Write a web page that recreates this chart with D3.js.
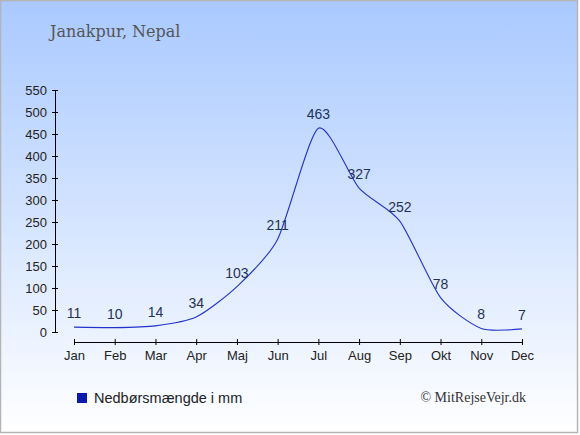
<!DOCTYPE html>
<html><head><meta charset="utf-8">
<script src="https://cdn.jsdelivr.net/npm/d3@7"></script>
<style>html,body{margin:0;padding:0;background:#fff}svg{display:block}</style>
</head><body>
<script>
const title = "Janakpur, Nepal";
const months = ["Jan","Feb","Mar","Apr","Maj","Jun","Jul","Aug","Sep","Okt","Nov","Dec"];
const rainfall = [11,10,14,34,103,211,463,327,252,78,8,7];
const yTicks = [0,50,100,150,200,250,300,350,400,450,500,550];
const legendLabel = "Nedbørsmængde i mm";
const credit = "© MitRejseVejr.dk";

const W = 580, H = 435;
const svg = d3.select("body").append("svg").attr("width", W).attr("height", H);
const defs = svg.append("defs");
const grad = defs.append("linearGradient").attr("id","bg").attr("x1",0).attr("y1",0).attr("x2",0).attr("y2",1);
grad.append("stop").attr("offset","0%").attr("stop-color","#a9c9ff");
grad.append("stop").attr("offset","100%").attr("stop-color","#ffffff");
svg.append("rect").attr("x",0.5).attr("y",0.5).attr("width",577).attr("height",432)
  .attr("fill","url(#bg)").attr("stroke","#b4b4b4").attr("stroke-width",1.5);

svg.append("text").attr("x",50).attr("y",37).text(title)
  .attr("font-family","'DejaVu Serif', serif").attr("font-size",16).attr("fill","#555");

const x = d3.scalePoint().domain(months).range([74,522]);
const y = d3.scaleLinear().domain([0,550]).range([332,90]);

// y axis
const ya = svg.append("g").attr("transform","translate(55,0)")
  .call(d3.axisLeft(y).tickValues(yTicks).tickSize(3).tickPadding(5).tickSizeOuter(0));
ya.selectAll(".tick line").attr("x1",3);
ya.select(".domain").attr("stroke","#000");
ya.selectAll("text").attr("font-family","Arial, 'Liberation Sans', sans-serif").attr("font-size",13).attr("fill","#222");

// x axis
const xa = svg.append("g").attr("transform","translate(0,342)")
  .call(d3.axisBottom(x).tickSize(3).tickPadding(6).tickSizeOuter(0));
xa.selectAll(".tick line").attr("y1",-3);
xa.select(".domain").attr("stroke","#000");
xa.selectAll("text").attr("font-family","Arial, 'Liberation Sans', sans-serif").attr("font-size",13).attr("fill","#222");

const data = months.map((m,i)=>({m, v: rainfall[i]}));
const line = d3.line().x(d=>x(d.m)).y(d=>y(d.v)).curve(d3.curveCardinal.tension(0.3));
svg.append("path").datum(data).attr("d",line).attr("fill","none")
  .attr("stroke","#2233cc").attr("stroke-width",1.1);

svg.append("g").selectAll("text").data(data).join("text")
  .attr("x",d=>x(d.m)).attr("y",d=>y(d.v)-9).attr("text-anchor","middle")
  .attr("font-family","Arial, 'Liberation Sans', sans-serif").attr("font-size",14).attr("fill","#1e3355")
  .text(d=>d.v);

// legend
svg.append("rect").attr("x",77).attr("y",393).attr("width",10).attr("height",10).attr("fill","#0a1aaa");
svg.append("text").attr("x",94).attr("y",403).text(legendLabel)
  .attr("font-family","Arial, 'Liberation Sans', sans-serif").attr("font-size",14.5).attr("fill","#222");

svg.append("text").attr("x",526).attr("y",402).attr("text-anchor","end").text(credit)
  .attr("font-family","'Liberation Serif', serif").attr("font-size",14).attr("fill","#333");
</script>
</body></html>
